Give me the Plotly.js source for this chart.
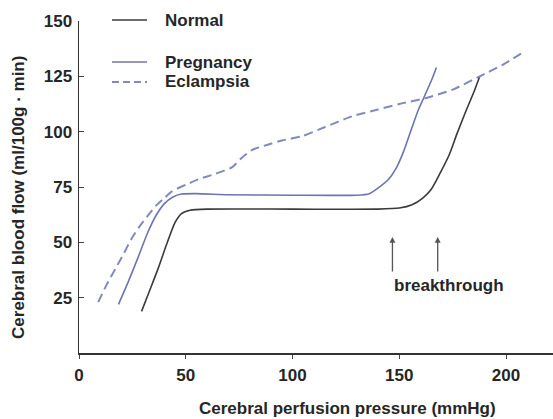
<!DOCTYPE html>
<html>
<head>
<meta charset="utf-8">
<script src="https://cdn.plot.ly/plotly-3.0.1.min.js"></script>
<style>html,body{margin:0;padding:0;background:#fff;}#chart{width:553px;height:419px;}</style>
</head>
<body>
<div id="chart"></div>
<script>
// Normal
const normalX = [29.3, 33, 37, 41, 45, 48, 52, 60, 100, 140, 150, 156, 161, 165, 169, 173.6, 177, 181.5, 185, 187.7];
const normalY = [18.8, 28, 38, 49, 59, 63, 64.5, 65, 65, 65, 65.5, 67, 70, 74, 81, 90, 99, 110, 118, 125];
// Pregnancy
const pregX = [18.5, 23, 28, 32, 36, 40, 44, 48, 55, 70, 100, 130, 136, 140, 145, 148.8, 152, 156, 159, 161.8, 165, 167.4];
const pregY = [22, 32, 44, 54, 62, 67.5, 70.5, 71.8, 72, 71.5, 71.3, 71.3, 72, 74.5, 78.5, 84, 91, 102, 110, 116, 123, 129];
// Eclampsia
const eclX = [9, 13, 17, 21, 24.8, 29, 33, 36, 40, 43.5, 50, 56, 64, 71.8, 76, 81, 88, 95, 104.6, 115, 128, 140, 150, 161.8, 175, 187.7, 198, 207.9];
const eclY = [23, 31, 38, 45, 52, 58, 63, 66.5, 70, 73, 76, 78.5, 81, 84, 88, 91.7, 94, 96, 98, 102, 107, 110, 112.5, 115, 119, 125, 130, 135.8];
// Ticks
const xTicks = [0, 50, 100, 150, 200];
const yTicks = [25, 50, 75, 100, 125, 150];
// Series names
const seriesNames = ['Normal', 'Pregnancy', 'Eclampsia'];
// Breakthrough arrows (x positions)
const arrowX = [146.8, 168];
const arrowTailY = 36.2;
const arrowHeadY = 52.4;

const font = {family: 'Liberation Sans, Arial, sans-serif', size: 17, color: '#262626', weight: 'bold'};

const styles = [
  {color: '#3a3a3a', width: 1.6},
  {color: '#6d74b3', width: 1.6},
  {color: '#8289c0', width: 2, dash: '9px,5px'}
];
const xs = [normalX, pregX, eclX];
const ys = [normalY, pregY, eclY];

const traces = seriesNames.map((n, i) => ({
  x: xs[i], y: ys[i], name: n, mode: 'lines',
  line: Object.assign({shape: 'spline', smoothing: 0.6}, styles[i])
}));

// legend (drawn in paper coordinates)
const legY = [1.003, 0.8765, 0.8163];
const shapes = seriesNames.map((n, i) => ({
  type: 'line', xref: 'paper', yref: 'paper', x0: 0.0696, x1: 0.1435, y0: legY[i], y1: legY[i],
  line: {color: styles[i].color, width: styles[i].width, dash: i === 2 ? '7px,4px' : 'solid'}
}));
const annotations = seriesNames.map((n, i) => ({
  x: 0.177, y: legY[i], xref: 'paper', yref: 'paper', xanchor: 'left', yanchor: 'middle',
  text: n, showarrow: false, font: font
}));

arrowX.forEach(ax => annotations.push({
  x: ax, y: arrowHeadY, ax: ax, ay: arrowTailY, xref: 'x', yref: 'y', axref: 'x', ayref: 'y',
  text: '', showarrow: true, arrowhead: 2, arrowsize: 0.9, arrowwidth: 1.3, arrowcolor: '#555'
}));
annotations.push({
  x: 146.4, y: 30.3, xref: 'x', yref: 'y', xanchor: 'left', yanchor: 'middle',
  text: 'breakthrough', showarrow: false, font: font
});
// axis titles
annotations.push({
  x: 0.5675, y: -0.166, xref: 'paper', yref: 'paper', xanchor: 'center', yanchor: 'middle',
  text: 'Cerebral perfusion pressure (mmHg)', showarrow: false, font: font
});
annotations.push({
  x: -0.1266, y: 0.47, xref: 'paper', yref: 'paper', xanchor: 'center', yanchor: 'middle',
  text: 'Cerebral blood flow (ml/100g · min)', showarrow: false, font: font, textangle: -90
});

const layout = {
  width: 553, height: 419,
  margin: {l: 79, r: 0, t: 21, b: 66},
  paper_bgcolor: '#fff', plot_bgcolor: '#fff',
  font: font,
  showlegend: false,
  xaxis: {range: [0, 222], tickvals: xTicks, ticktext: xTicks.map(String),
          showline: true, linecolor: '#333', linewidth: 1.5, showgrid: false, zeroline: false,
          ticks: 'outside', ticklen: 4, tickcolor: '#444', tickfont: font, ticklabelstandoff: 2},
  yaxis: {range: [0, 150], tickvals: yTicks, ticktext: yTicks.map(String),
          showline: true, linecolor: '#333', linewidth: 1.5, showgrid: false, zeroline: false,
          ticks: 'inside', ticklen: 5, tickcolor: '#444', tickfont: font, ticklabelstandoff: 2},
  shapes: shapes,
  annotations: annotations
};

Plotly.newPlot('chart', traces, layout, {displayModeBar: false, staticPlot: true});
</script>
</body>
</html>
